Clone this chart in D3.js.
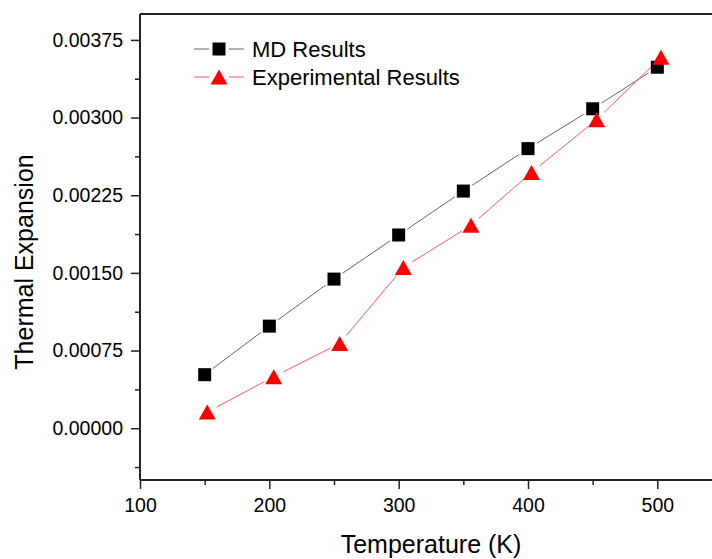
<!DOCTYPE html>
<html>
<head>
<meta charset="utf-8">
<script src="https://cdn.jsdelivr.net/npm/d3@7"></script>
<style>
  html, body { margin: 0; padding: 0; background: #fff; }
  svg { display: block; }
  text { font-family: "Liberation Sans", Arial, sans-serif; fill: #000; }
</style>
</head>
<body>
<svg id="chart" width="712" height="559"></svg>
<script>
// ---- data ----
const mdTemps = [150, 200, 250, 300, 350, 400, 450, 500];
const mdValues = [0.000517, 0.000986, 0.00144, 0.001866, 0.00229, 0.0027, 0.003085, 0.003486];
const expTemps = [152, 203.4, 254.4, 303.6, 355.9, 402.7, 453.1, 502.8];
const expValues = [0.000157, 0.000497, 0.000819, 0.001552, 0.00196, 0.00247, 0.00298, 0.003582];
const xTickValues = [100, 200, 300, 400, 500];
const xMinorValues = [150, 250, 350, 450];
const yTickValues = [0, 0.00075, 0.0015, 0.00225, 0.003, 0.00375];
const yMinorValues = [-0.000375, 0.000375, 0.001125, 0.001875, 0.002625, 0.003375];
const seriesNames = ["MD Results", "Experimental Results"];

(function () {
// ---- layout ----
const pLeft = 140, pRight = 722, pTop = 14, pBottom = 480;
const svg = d3.select("#chart");
const x = d3.scaleLinear().domain([100, 550]).range([pLeft, pRight]);
const y = d3.scaleLinear().domain([-0.0005, 0.004]).range([pBottom, pTop]);

const axisColor = "#222";

// frame top line
svg.append("line").attr("x1", pLeft).attr("x2", pRight).attr("y1", pTop).attr("y2", pTop)
  .attr("stroke", axisColor).attr("stroke-width", 2);

// axes
const gx = svg.append("g").attr("transform", `translate(0,${pBottom})`)
  .call(d3.axisBottom(x).tickValues(xTickValues).tickSize(9).tickPadding(9).tickFormat(d3.format("d")));
const gxm = svg.append("g").attr("transform", `translate(0,${pBottom})`)
  .call(d3.axisBottom(x).tickValues(xMinorValues).tickSize(5).tickFormat(""));
const gy = svg.append("g").attr("transform", `translate(${pLeft},0)`)
  .call(d3.axisLeft(y).tickValues(yTickValues).tickSize(9).tickPadding(8).tickFormat(d3.format(".5f")));
const gym = svg.append("g").attr("transform", `translate(${pLeft},0)`)
  .call(d3.axisLeft(y).tickValues(yMinorValues).tickSize(5).tickFormat(""));
gxm.select(".domain").remove();
gym.select(".domain").remove();
[gx, gy, gxm, gym].forEach(g => {
  g.selectAll(".domain").attr("stroke", axisColor).attr("stroke-width", 2);
  g.selectAll(".tick line").attr("stroke", axisColor).attr("stroke-width", 1.5);
  g.selectAll(".tick text").attr("font-size", 19.5).attr("font-family", '"Liberation Sans", Arial, sans-serif').attr("fill", "#000");
});
gy.select(".domain").attr("d", `M0,${pBottom}V${pTop}`);
gx.select(".domain").attr("d", `M${pLeft},0H${pRight}`);

// axis titles
svg.append("text").attr("x", (pLeft + pRight) / 2).attr("y", 553).attr("text-anchor", "middle")
  .attr("font-size", 25).text("Temperature (K)");
svg.append("text").attr("transform", `translate(33,262) rotate(-90)`).attr("text-anchor", "middle")
  .attr("font-size", 25).text("Thermal Expansion");

// connecting lines with gaps near markers
function gappedSegments(xs, ys, gap) {
  const pts = xs.map((t, i) => [x(t), y(ys[i])]);
  const segs = [];
  for (let i = 0; i < pts.length - 1; i++) {
    const [x1, y1] = pts[i], [x2, y2] = pts[i + 1];
    const dx = x2 - x1, dy = y2 - y1, L = Math.hypot(dx, dy);
    if (L <= 2 * gap) continue;
    const ux = dx / L, uy = dy / L;
    segs.push([x1 + ux * gap, y1 + uy * gap, x2 - ux * gap, y2 - uy * gap]);
  }
  return segs;
}
const mdColor = "#000", mdLine = "#666";
const exColor = "#ff0000", exLine = "#ff5a5a";

svg.append("g").selectAll("line").data(gappedSegments(mdTemps, mdValues, 10.5)).join("line")
  .attr("x1", d => d[0]).attr("y1", d => d[1]).attr("x2", d => d[2]).attr("y2", d => d[3])
  .attr("stroke", mdLine).attr("stroke-width", 1);
svg.append("g").selectAll("line").data(gappedSegments(expTemps, expValues, 10.5)).join("line")
  .attr("x1", d => d[0]).attr("y1", d => d[1]).attr("x2", d => d[2]).attr("y2", d => d[3])
  .attr("stroke", exLine).attr("stroke-width", 1);

const sq = 13;
const triPath = "M0,-7.5L8.5,7.5L-8.5,7.5Z";
svg.append("g").selectAll("rect").data(mdTemps).join("rect")
  .attr("x", (d) => x(d) - sq / 2).attr("y", (d, i) => y(mdValues[i]) - sq / 2)
  .attr("width", sq).attr("height", sq).attr("fill", mdColor);
svg.append("g").selectAll("path").data(expTemps).join("path")
  .attr("d", triPath)
  .attr("transform", (d, i) => `translate(${x(d)},${y(expValues[i])})`)
  .attr("fill", exColor);

// legend
const lg = svg.append("g");
const legendRows = [
  { name: seriesNames[0], y: 49, color: mdColor, line: mdLine, shape: "square" },
  { name: seriesNames[1], y: 77, color: exColor, line: exLine, shape: "tri" }
];
legendRows.forEach(r => {
  lg.append("line").attr("x1", 194).attr("x2", 209).attr("y1", r.y).attr("y2", r.y).attr("stroke", r.line).attr("stroke-width", 1);
  lg.append("line").attr("x1", 229).attr("x2", 244).attr("y1", r.y).attr("y2", r.y).attr("stroke", r.line).attr("stroke-width", 1);
  if (r.shape === "square") {
    lg.append("rect").attr("x", 219 - sq / 2).attr("y", r.y - sq / 2).attr("width", sq).attr("height", sq).attr("fill", r.color);
  } else {
    lg.append("path").attr("d", triPath).attr("transform", `translate(219,${r.y})`).attr("fill", r.color);
  }
  lg.append("text").attr("x", 252).attr("y", r.y + 7.5).attr("font-size", 22).text(r.name);
});
})();
</script>
</body>
</html>
